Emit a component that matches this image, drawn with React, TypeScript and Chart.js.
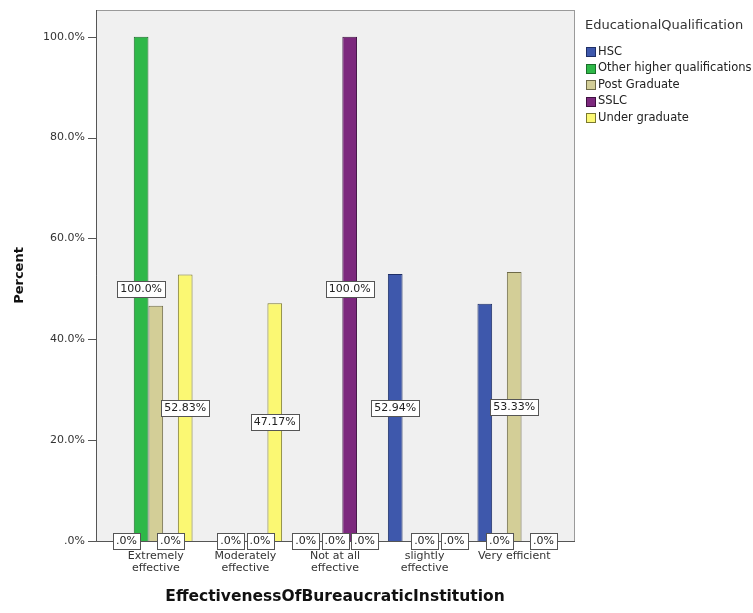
import React, { useEffect, useRef } from 'react';
import { Chart, registerables } from 'chart.js';

Chart.register(...registerables);

// ---- data ----
const categories: (string | string[])[] = [
  ['Extremely', 'effective'],
  ['Moderately', 'effective'],
  ['Not at all', 'effective'],
  ['slightly', 'effective'],
  ['Very efficient'],
];
const seriesNames = ['HSC', 'Other higher qualifications', 'Post Graduate', 'SSLC', 'Under graduate'];
const hscValues = [0, 0, 0, 52.94, 47.06];
const otherHigherValues = [100, 0, 0, 0, 0];
const postGraduateValues = [46.67, 0, 0, 0, 53.33];
const sslcValues = [0, 0, 100, 0, 0];
const underGraduateValues = [52.83, 47.17, 0, 0, 0];
const yTickValues = [0, 20, 40, 60, 80, 100];
const legendTitle = 'EducationalQualification';
const xTitle = 'EffectivenessOfBureaucraticInstitution';
const yTitle = 'Percent';

const seriesColors = ['#3E58AC', '#2EB848', '#D3CE97', '#7C287D', '#FBF873'];
const seriesBorders = ['#1f2f66', '#1a6e2a', '#6e6a48', '#3e1040', '#7a7830'];

const FONT = "'DejaVu Sans', sans-serif";
const FRAME_L = 15;
const FRAME_R = 16;

const fmtTick = (v: number) => (v === 0 ? '.0%' : v.toFixed(1) + '%');
const fmtLabel = (v: number) =>
  v === 0 ? '.0%' : (Number.isInteger(v) ? v.toFixed(1) : v.toFixed(2)) + '%';

const framePlugin = {
  id: 'spssFrame',
  beforeDraw(chart: any) {
    const { ctx, chartArea } = chart;
    const l = chartArea.left - FRAME_L;
    const r = chartArea.right + FRAME_R;
    const t = chartArea.top;
    const b = chartArea.bottom;
    ctx.save();
    ctx.fillStyle = '#F0F0F0';
    ctx.fillRect(l, t, r - l, b - t);
    ctx.strokeStyle = '#9a9a9a';
    ctx.lineWidth = 1;
    ctx.strokeRect(l + 0.5, t + 0.5, r - l - 1, b - t);
    ctx.restore();
  },
  afterDatasetsDraw(chart: any) {
    const { ctx, chartArea, scales } = chart;
    const l = chartArea.left - FRAME_L;
    const r = chartArea.right + FRAME_R;
    ctx.save();
    ctx.strokeStyle = '#555';
    ctx.lineWidth = 1;
    ctx.beginPath();
    ctx.moveTo(l + 0.5, chartArea.top);
    ctx.lineTo(l + 0.5, chartArea.bottom + 0.5);
    ctx.lineTo(r, chartArea.bottom + 0.5);
    for (const tk of scales.y.ticks) {
      const y = Math.round(scales.y.getPixelForValue(tk.value)) + 0.5;
      ctx.moveTo(l - 8, y);
      ctx.lineTo(l + 0.5, y);
    }
    ctx.stroke();

    // data labels: later datasets take precedence, overlapping ones are hidden
    ctx.font = `11px ${FONT}`;
    ctx.textAlign = 'center';
    ctx.textBaseline = 'middle';
    const placed: { x1: number; x2: number; y1: number; y2: number; text: string; cx: number; cy: number }[] = [];
    const n = chart.data.datasets.length;
    for (let d = n - 1; d >= 0; d--) {
      const meta = chart.getDatasetMeta(d);
      const vals = chart.data.datasets[d].data as number[];
      meta.data.forEach((bar: any, i: number) => {
        const text = fmtLabel(vals[i]);
        const w = ctx.measureText(text).width + 6;
        const h = 16;
        const cx = bar.x;
        const cy = (bar.y + bar.base) / 2;
        const box = { x1: cx - w / 2, x2: cx + w / 2, y1: cy - h / 2, y2: cy + h / 2, text, cx, cy };
        const hit = placed.some(
          (p) => box.x1 < p.x2 && box.x2 > p.x1 && box.y1 < p.y2 && box.y2 > p.y1
        );
        if (!hit) placed.push(box);
      });
    }
    for (const p of placed) {
      const x = Math.round(p.x1) + 0.5;
      const y = Math.round(p.y1) + 0.5;
      const w = Math.round(p.x2 - p.x1);
      const h = Math.round(p.y2 - p.y1);
      ctx.fillStyle = '#ffffff';
      ctx.fillRect(x, y, w, h);
      ctx.strokeStyle = '#555';
      ctx.strokeRect(x, y, w, h);
      ctx.fillStyle = '#222';
      ctx.fillText(p.text, p.cx, p.cy + 0.5);
    }
    ctx.restore();
  },
  afterDraw(chart: any) {
    const { ctx, chartArea } = chart;
    const x0 = chartArea.right + FRAME_R + 10;
    ctx.save();
    ctx.textAlign = 'left';
    ctx.textBaseline = 'middle';
    ctx.fillStyle = '#333';
    ctx.font = `13px ${FONT}`;
    ctx.fillText(legendTitle, x0, 26);
    ctx.font = `11.5px ${FONT}`;
    chart.data.datasets.forEach((ds: any, i: number) => {
      const cy = 52 + i * 16.5;
      ctx.fillStyle = ds.backgroundColor;
      ctx.fillRect(x0 + 1, Math.round(cy - 5), 10, 10);
      ctx.strokeStyle = ds.borderColor;
      ctx.lineWidth = 1;
      ctx.strokeRect(x0 + 1.5, Math.round(cy - 5) + 0.5, 9, 9);
      ctx.fillStyle = '#222';
      ctx.fillText(ds.label, x0 + 13, cy);
    });
    ctx.restore();
  },
};

export default function App() {
  const canvasRef = useRef<HTMLCanvasElement | null>(null);

  useEffect(() => {
    const canvas = canvasRef.current;
    if (!canvas) return;
    const seriesValues = [hscValues, otherHigherValues, postGraduateValues, sslcValues, underGraduateValues];
    const chart = new Chart(canvas, {
      type: 'bar',
      data: {
        labels: categories,
        datasets: seriesNames.map((name, i) => ({
          label: name,
          data: seriesValues[i],
          backgroundColor: seriesColors[i],
          borderColor: seriesBorders[i],
          borderWidth: 1,
          barPercentage: 1,
          categoryPercentage: 0.82,
        })),
      },
      options: {
        responsive: false,
        animation: false,
        devicePixelRatio: 1,
        layout: { padding: { left: 0, top: 10, right: 194, bottom: 0 } },
        plugins: {
          legend: { display: false },
          tooltip: { enabled: false },
        },
        scales: {
          x: {
            grid: { display: false, drawTicks: false },
            border: { display: false },
            ticks: {
              autoSkip: false,
              maxRotation: 0,
              padding: 9,
              color: '#333',
              font: { family: FONT, size: 11, lineHeight: 1.1 },
            },
            title: {
              display: true,
              text: xTitle,
              color: '#111',
              font: { family: FONT, size: 15.5, weight: 'bold' },
              padding: { top: 2, bottom: 7 },
            },
            afterFit: (s: any) => {
              s.height = 72;
              s.paddingLeft = 0;
              s.paddingRight = 0;
            },
          },
          y: {
            min: 0,
            max: 105.3,
            grid: { display: false, drawTicks: false },
            border: { display: false },
            afterBuildTicks: (s: any) => {
              s.ticks = yTickValues.map((v) => ({ value: v }));
            },
            ticks: {
              padding: 26,
              color: '#333',
              font: { family: FONT, size: 11 },
              callback: (v: any) => fmtTick(Number(v)),
            },
            title: {
              display: true,
              text: yTitle,
              color: '#111',
              font: { family: FONT, size: 13, weight: 'bold' },
              padding: { top: 12, bottom: 0 },
            },
            afterFit: (s: any) => {
              s.width = 111;
              s.paddingTop = 0;
              s.paddingBottom = 0;
            },
          },
        },
      },
      plugins: [framePlugin],
    });
    return () => chart.destroy();
  }, []);

  return (
    <div style={{ position: 'absolute', left: 0, top: 0, width: 753, height: 613, background: '#fff' }}>
      <canvas ref={canvasRef} width={753} height={613} style={{ width: 753, height: 613, display: 'block' }} />
    </div>
  );
}
